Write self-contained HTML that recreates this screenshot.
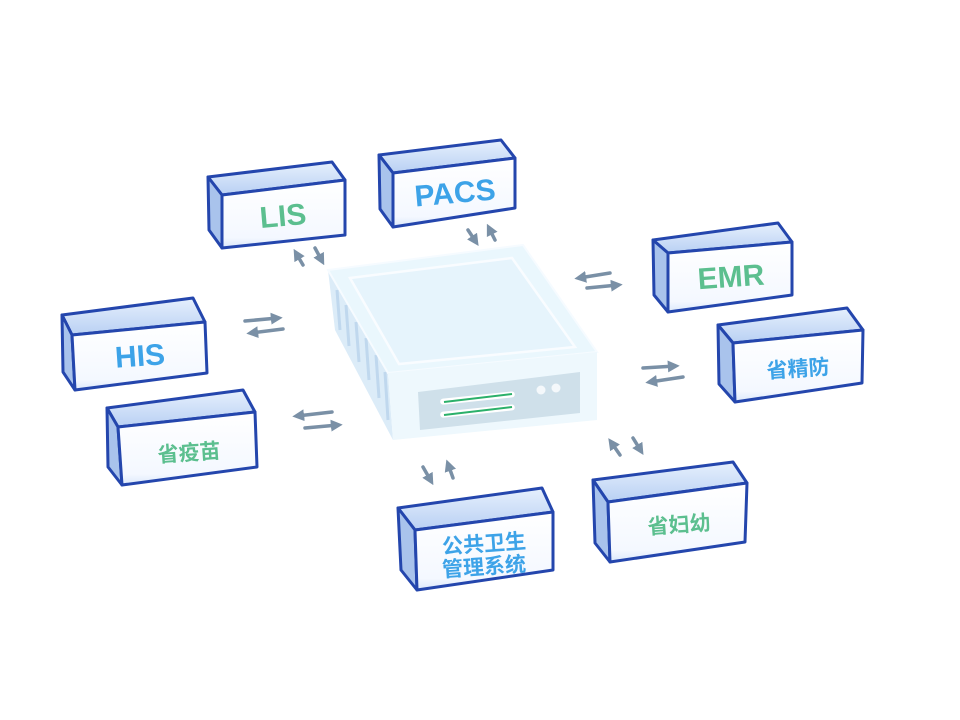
<!DOCTYPE html>
<html><head><meta charset="utf-8"><style>
html,body{margin:0;padding:0;background:#fff;width:960px;height:720px;overflow:hidden}
svg text{font-family:"Liberation Sans","Noto Sans CJK SC",sans-serif;font-weight:bold;text-anchor:middle}
</style></head><body>
<svg width="960" height="720" viewBox="0 0 960 720" xmlns="http://www.w3.org/2000/svg">
<defs>
<marker id="ah" viewBox="0 0 10 10" refX="6" refY="5" markerWidth="3.4" markerHeight="3.4" orient="auto"><path d="M0,0 L10,5 L0,10 z" fill="#7a90a6"/></marker>
<linearGradient id="fr" x1="0" y1="0" x2="0" y2="1"><stop offset="0" stop-color="#ffffff"/><stop offset="0.85" stop-color="#f4f8ff"/><stop offset="1" stop-color="#dbe8fb"/></linearGradient>
<linearGradient id="tp" x1="0" y1="0" x2="0" y2="1"><stop offset="0" stop-color="#e6f0fd"/><stop offset="1" stop-color="#b9d0f3"/></linearGradient>
</defs>
<g stroke="#7a90a6" stroke-width="3.5" stroke-linecap="round" marker-end="url(#ah)" fill="none">
<line x1="303" y1="265" x2="296" y2="253"/><line x1="315" y1="248" x2="322" y2="261"/>
<line x1="468" y1="230" x2="476" y2="242"/><line x1="495" y1="240" x2="489" y2="228"/>
<line x1="610" y1="273" x2="579" y2="278"/><line x1="587" y1="288" x2="618" y2="285"/>
<line x1="245" y1="321" x2="278" y2="318"/><line x1="283" y1="329" x2="251" y2="333"/>
<line x1="643" y1="368" x2="675" y2="366"/><line x1="683" y1="377" x2="650" y2="382"/>
<line x1="332" y1="412" x2="297" y2="416"/><line x1="305" y1="428" x2="338" y2="425"/>
<line x1="423" y1="467" x2="431" y2="481"/><line x1="453" y1="478" x2="448" y2="464"/>
<line x1="620" y1="455" x2="611" y2="442"/><line x1="633" y1="438" x2="641" y2="451"/>
</g>
<!-- server -->
<g>
<polygon points="328,270 335,330 393,440 388,373" fill="#dcecf8"/>
<g stroke="#c0d8ee" stroke-width="3">
<line x1="337" y1="290" x2="340" y2="330"/><line x1="346" y1="305" x2="349" y2="346"/><line x1="356" y1="322" x2="359" y2="362"/><line x1="366" y1="338" x2="369" y2="380"/><line x1="376" y1="355" x2="379" y2="398"/><line x1="385" y1="372" x2="388" y2="420"/>
</g>
<polygon points="328,270 523,245 597,352 388,373" fill="#eaf7fd" stroke="#f6fbff" stroke-width="2"/>
<polygon points="350,278 512,258 575,347 399,364" fill="#e6f4fc" stroke="#f9fcff" stroke-width="2.5"/>
<polygon points="388,373 597,352 597,420 393,440" fill="#eef8fd"/>
<polygon points="418,392 580,372 580,413 420,430" fill="#cfe0ea"/>
<rect x="440" y="395" width="75" height="6" rx="3" fill="#fff" transform="rotate(-6 478 398)"/>
<line x1="444" y1="402" x2="512" y2="394" stroke="#2bb06a" stroke-width="2"/>
<rect x="440" y="408" width="75" height="6" rx="3" fill="#fff" transform="rotate(-6 478 411)"/>
<line x1="444" y1="415" x2="512" y2="407" stroke="#2bb06a" stroke-width="2"/>
<circle cx="541" cy="390" r="4.5" fill="#f4f8fb"/><circle cx="556" cy="388" r="4.5" fill="#f4f8fb"/>
</g>
<!-- boxes -->
<g stroke="#2446ad" stroke-width="3" stroke-linejoin="round">
<polygon points="222,195 345,180 332,162 208,177" fill="url(#tp)"/>
<polygon points="208,177 222,195 222,248 209,230" fill="#a9c3ec"/>
<polygon points="222,195 345,180 345,235 222,248" fill="url(#fr)"/>
<polygon points="393,173 515,158 501,140 379,155" fill="url(#tp)"/>
<polygon points="379,155 393,173 393,227 380,209" fill="#a9c3ec"/>
<polygon points="393,173 515,158 515,208 393,227" fill="url(#fr)"/>
<polygon points="668,253 792,242 778,223 653,240" fill="url(#tp)"/>
<polygon points="653,240 668,253 668,312 654,295" fill="#a9c3ec"/>
<polygon points="668,253 792,242 792,295 668,312" fill="url(#fr)"/>
<polygon points="733,343 863,330 847,308 718,325" fill="url(#tp)"/>
<polygon points="718,325 733,343 735,402 719,384" fill="#a9c3ec"/>
<polygon points="733,343 863,330 862,383 735,402" fill="url(#fr)"/>
<polygon points="72,335 205,322 193,298 62,315" fill="url(#tp)"/>
<polygon points="62,315 72,335 75,390 63,372" fill="#a9c3ec"/>
<polygon points="72,335 205,322 207,373 75,390" fill="url(#fr)"/>
<polygon points="118,427 255,412 243,390 107,408" fill="url(#tp)"/>
<polygon points="107,408 118,427 122,485 108,467" fill="#a9c3ec"/>
<polygon points="118,427 255,412 257,467 122,485" fill="url(#fr)"/>
<polygon points="415,530 553,512 542,488 398,508" fill="url(#tp)"/>
<polygon points="398,508 415,530 417,590 401,570" fill="#a9c3ec"/>
<polygon points="415,530 553,512 553,570 417,590" fill="url(#fr)"/>
<polygon points="608,502 747,483 733,462 593,480" fill="url(#tp)"/>
<polygon points="593,480 608,502 610,562 595,543" fill="#a9c3ec"/>
<polygon points="608,502 747,483 745,542 610,562" fill="url(#fr)"/>
</g>
<g>
<text x="283" y="226" font-size="30" fill="#5cbf8f" transform="rotate(-5 283 216)">LIS</text>
<text x="455" y="203" font-size="30" fill="#3da3e8" transform="rotate(-5 455 193)">PACS</text>
<text x="731" y="287" font-size="30" fill="#5cbf8f" transform="rotate(-4 731 277)">EMR</text>
<text x="798" y="376" font-size="21" fill="#3da3e8" transform="rotate(-4 798 368)">省精防</text>
<text x="140" y="366" font-size="30" fill="#3da3e8" transform="rotate(-4 140 356)">HIS</text>
<text x="189" y="460" font-size="21" fill="#5cbf8f" transform="rotate(-4 189 452)">省疫苗</text>
<text x="484" y="551" font-size="21" fill="#3da3e8" transform="rotate(-4 484 543)">公共卫生</text>
<text x="484" y="574" font-size="21" fill="#3da3e8" transform="rotate(-4 484 566)">管理系统</text>
<text x="679" y="532" font-size="21" fill="#5cbf8f" transform="rotate(-4 679 524)">省妇幼</text>
</g>
</svg>
</body></html>
